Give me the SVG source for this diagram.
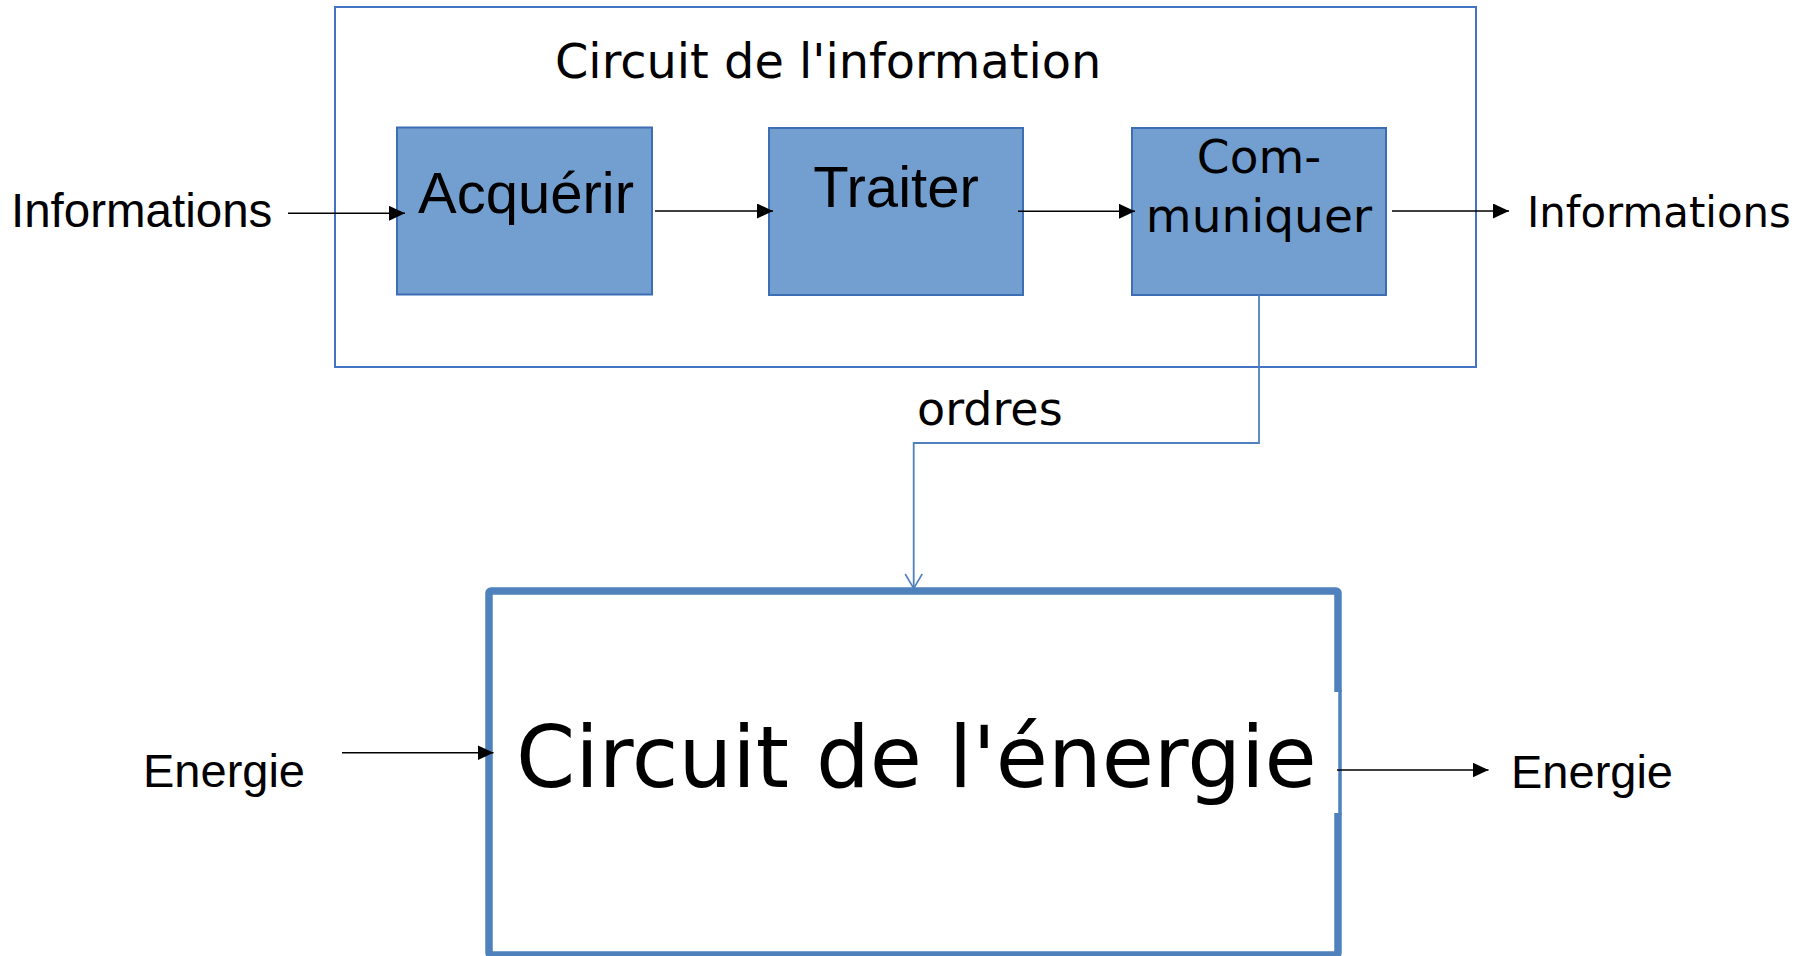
<svg xmlns="http://www.w3.org/2000/svg" width="1812" height="956" viewBox="0 0 1812 956">
<style>
.lib{font-family:"Liberation Sans",Arial,sans-serif;fill:#000}
.dj{font-family:"DejaVu Sans",sans-serif;fill:#000}
.blk{fill:#729fcf;stroke:#3d6db5;stroke-width:2}
.arr{stroke:#000;stroke-width:1.4;fill:none;marker-end:url(#ah)}
</style>
<defs>
<marker id="ah" markerUnits="userSpaceOnUse" markerWidth="16" markerHeight="15" refX="16" refY="7.5" orient="auto">
<path d="M0,0 L16,7.5 L0,15 z" fill="#000"/>
</marker>
<marker id="oa" markerUnits="userSpaceOnUse" markerWidth="18" markerHeight="19" refX="15.5" refY="9.5" orient="auto">
<path d="M1,1 L15.5,9.5 L1,18" fill="none" stroke="#4f81bd" stroke-width="1.6"/>
</marker>
</defs>
<rect width="1812" height="956" fill="#fff"/>
<g id="info-circuit">
<rect x="335" y="7" width="1141" height="360" fill="none" stroke="#4472c4" stroke-width="2"/>
<text class="dj" x="555" y="78" font-size="47.8">Circuit de l'information</text>
</g>
<g id="acquerir">
<rect class="blk" x="397" y="127.5" width="255" height="167"/>
<text class="lib" x="526" y="212.7" font-size="58" text-anchor="middle">Acquérir</text>
</g>
<g id="traiter">
<rect class="blk" x="769" y="128" width="254" height="167"/>
<text class="lib" x="896" y="207.3" font-size="58" text-anchor="middle">Traiter</text>
</g>
<g id="communiquer">
<rect class="blk" x="1132" y="128" width="254" height="167"/>
<text class="dj" x="1259" y="173.3" font-size="47" text-anchor="middle">Com-</text>
<text class="dj" x="1259" y="231.7" font-size="47" text-anchor="middle">muniquer</text>
</g>
<g id="energie-circuit">
<rect x="489" y="591" width="849" height="364" rx="2" fill="none" stroke="#4f81bd" stroke-width="7.5"/>
<rect x="1333" y="692" width="10" height="121" fill="#fff"/>
<line x1="1340" y1="690" x2="1340" y2="815" stroke="#4f81bd" stroke-width="3.5"/>
<text class="dj" x="516" y="787.3" font-size="84.8">Circuit de l'énergie</text>
</g>
<g id="labels">
<text class="lib" x="11" y="226.7" font-size="47.5">Informations</text>
<text class="dj" x="1527" y="226.7" font-size="41.8">Informations</text>
<text class="dj" x="917" y="425" font-size="46">ordres</text>
<text class="lib" x="143" y="787.3" font-size="47">Energie</text>
<text class="lib" x="1511" y="788.3" font-size="47">Energie</text>
</g>
<g id="connectors">
<line class="arr" x1="288" y1="213.3" x2="405" y2="213.3"/>
<line class="arr" x1="655" y1="211" x2="773" y2="211"/>
<line class="arr" x1="1018" y1="211.3" x2="1135" y2="211.3"/>
<line class="arr" x1="1392" y1="211" x2="1509" y2="211"/>
<line class="arr" x1="342" y1="752.7" x2="493.5" y2="752.7"/>
<line class="arr" x1="1337" y1="770" x2="1488.5" y2="770"/>
<polyline points="1259,295 1259,443 913.7,443 913.7,588.5" fill="none" stroke="#4f81bd" stroke-width="1.8" marker-end="url(#oa)"/>
</g>
</svg>
